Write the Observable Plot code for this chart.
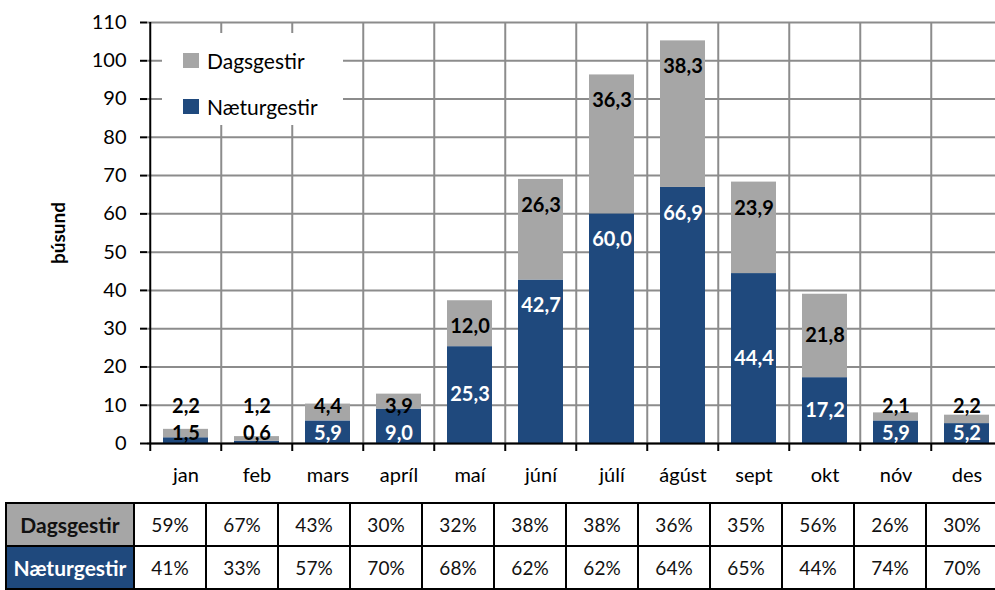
<!DOCTYPE html>
<html>
<head>
<meta charset="utf-8">
<script src="https://cdn.jsdelivr.net/npm/d3@7"></script>
<script src="https://cdn.jsdelivr.net/npm/@observablehq/plot@0.6"></script>
<style>
  html, body { margin: 0; padding: 0; background: white; overflow: hidden; }
  body { font-family: Lato, "Open Sans", sans-serif; }
  #wrap { position: relative; width: 995px; height: 590px; overflow: hidden; }
  #legend { position: absolute; left: 162px; top: 33px; width: 181px; height: 92px; background: white; font-size: 21px; color: #000; }
  .li { position: absolute; left: 21px; display: flex; align-items: center; height: 20px; }
  .sw { width: 16px; height: 15px; margin-right: 8px; }
  #tbl { position: absolute; left: 5px; top: 502px; border-collapse: collapse; table-layout: fixed; width: 992px; }
  #tbl td { border: 2px solid #000; height: 41px; padding: 0; text-align: center; font-size: 19px; color: #111; }
  #tbl td.h { font-weight: bold; font-size: 21px; }
</style>
</head>
<body>
<div id="wrap">
  <div id="chart"></div>
  <div id="legend"></div>
  <table id="tbl"></table>
</div>
<script>
const months = ["jan","feb","mars","apríl","maí","júní","júlí","ágúst","sept","okt","nóv","des"];
const naetur = [1.5, 0.6, 5.9, 9.0, 25.3, 42.7, 60.0, 66.9, 44.4, 17.2, 5.9, 5.2];
const dags   = [2.2, 1.2, 4.4, 3.9, 12.0, 26.3, 36.3, 38.3, 23.9, 21.8, 2.1, 2.2];
const dagsPct   = ["59%","67%","43%","30%","32%","38%","38%","36%","35%","56%","26%","30%"];
const naeturPct = ["41%","33%","57%","70%","68%","62%","62%","64%","65%","44%","74%","70%"];
const yTicks = [0,10,20,30,40,50,60,70,80,90,100,110];
const seriesNames = ["Næturgestir","Dagsgestir"];
const yLabel = "þúsund";
// label placement keywords (how the data labels sit in each segment)
const naeturPlace = ["base","base","base","base","center","end","end","end","center","center","base","base"];
const dagsPlace   = ["above","above","above","above","end","end","end","end","end","center","above","above"];

const NAVY = "#1f497d", GRAY = "#a6a6a6", GRID = "#8c8c8c";
const fmt = v => d3.format(".1f")(v).replace(".", ",");

const rows = [];
months.forEach((m, i) => {
  rows.push({month: m, series: seriesNames[0], value: naetur[i]});
  rows.push({month: m, series: seriesNames[1], value: dags[i]});
});

const labels = [];
months.forEach((m, i) => {
  const n = naetur[i], d = dags[i];
  const np = naeturPlace[i];
  labels.push({month: m, text: fmt(n), kind: np,
    y: np === "base" ? 0 : np === "center" ? n / 2 : n,
    color: n >= 5 ? "white" : "black"});
  const dp = dagsPlace[i];
  labels.push({month: m, text: fmt(d), kind: dp,
    y: dp === "above" ? 0 : dp === "center" ? n + d / 2 : n + d,
    color: "black"});
});
const dyOf = {base: -10, center: 0, end: 26, above: -37};

const step = 858 / 12;
const labelMarks = [];
for (const kind of Object.keys(dyOf)) {
  for (const color of ["white", "black"]) {
    const sub = labels.filter(l => l.kind === kind && l.color === color);
    if (!sub.length) continue;
    labelMarks.push(Plot.text(sub, {x: "month", y: "y", text: "text", dy: dyOf[kind],
      fill: color, fontWeight: "bold", fontSize: 20, lineAnchor: "middle"}));
  }
}

const chart = Plot.plot({
  width: 995, height: 500,
  marginLeft: 147, marginRight: -10, marginTop: 22, marginBottom: 57,
  style: {fontFamily: "Lato, 'Open Sans', sans-serif", overflow: "hidden", background: "white", color: "#000"},
  x: {domain: months, padding: 0, axis: null},
  y: {domain: [0, 110], axis: null},
  color: {domain: seriesNames, range: [NAVY, GRAY]},
  marks: [
    Plot.ruleY(yTicks, {stroke: GRID, strokeWidth: 2}),
    Plot.ruleX(months.slice(1), {x: d => d, dx: -step / 2, stroke: GRID, strokeWidth: 2}),
    Plot.barY(rows, {x: "month", y: "value", fill: "series", insetLeft: 13, insetRight: 13}),
    Plot.ruleX(months.slice(0, 1), {x: d => d, dx: -step / 2, stroke: "#000", strokeWidth: 2}),
    Plot.ruleY([0], {stroke: "#000", strokeWidth: 2}),
    Plot.ruleX(months, {x: d => d, dx: -step / 2, insetTop: 421, insetBottom: -8, stroke: "#000", strokeWidth: 2}),
    Plot.axisY({ticks: yTicks, tickSize: 7, tickPadding: 14, fontSize: 20, label: null, stroke: "#000", strokeWidth: 2, tickFormat: d => d}),
    Plot.axisX({tickSize: 0, tickPadding: 24, fontSize: 20, label: null}),
    Plot.text([yLabel], {frameAnchor: "left", dx: -89, rotate: -90, textAnchor: "middle", fontWeight: "bold", fontSize: 19, lineAnchor: "middle"}),
    ...labelMarks
  ]
});
document.getElementById("chart").appendChild(chart);

// legend (HTML)
const legend = d3.select("#legend");
[[seriesNames[1], GRAY, 17], [seriesNames[0], NAVY, 63]].forEach(([name, col, top]) => {
  const it = legend.append("div").attr("class", "li").style("top", top + "px");
  it.append("div").attr("class", "sw").style("background", col);
  it.append("span").text(name);
});

// table
const tbl = d3.select("#tbl");
const cg = tbl.append("colgroup");
cg.append("col").style("width", "128px");
months.forEach(() => cg.append("col").style("width", "72px"));
const r1 = tbl.append("tr");
r1.append("td").attr("class", "h").style("background", GRAY).style("color", "#111").text(seriesNames[1]);
dagsPct.forEach(p => r1.append("td").text(p));
const r2 = tbl.append("tr");
r2.append("td").attr("class", "h").style("background", NAVY).style("color", "white").text(seriesNames[0]);
naeturPct.forEach(p => r2.append("td").text(p));
</script>
</body>
</html>
